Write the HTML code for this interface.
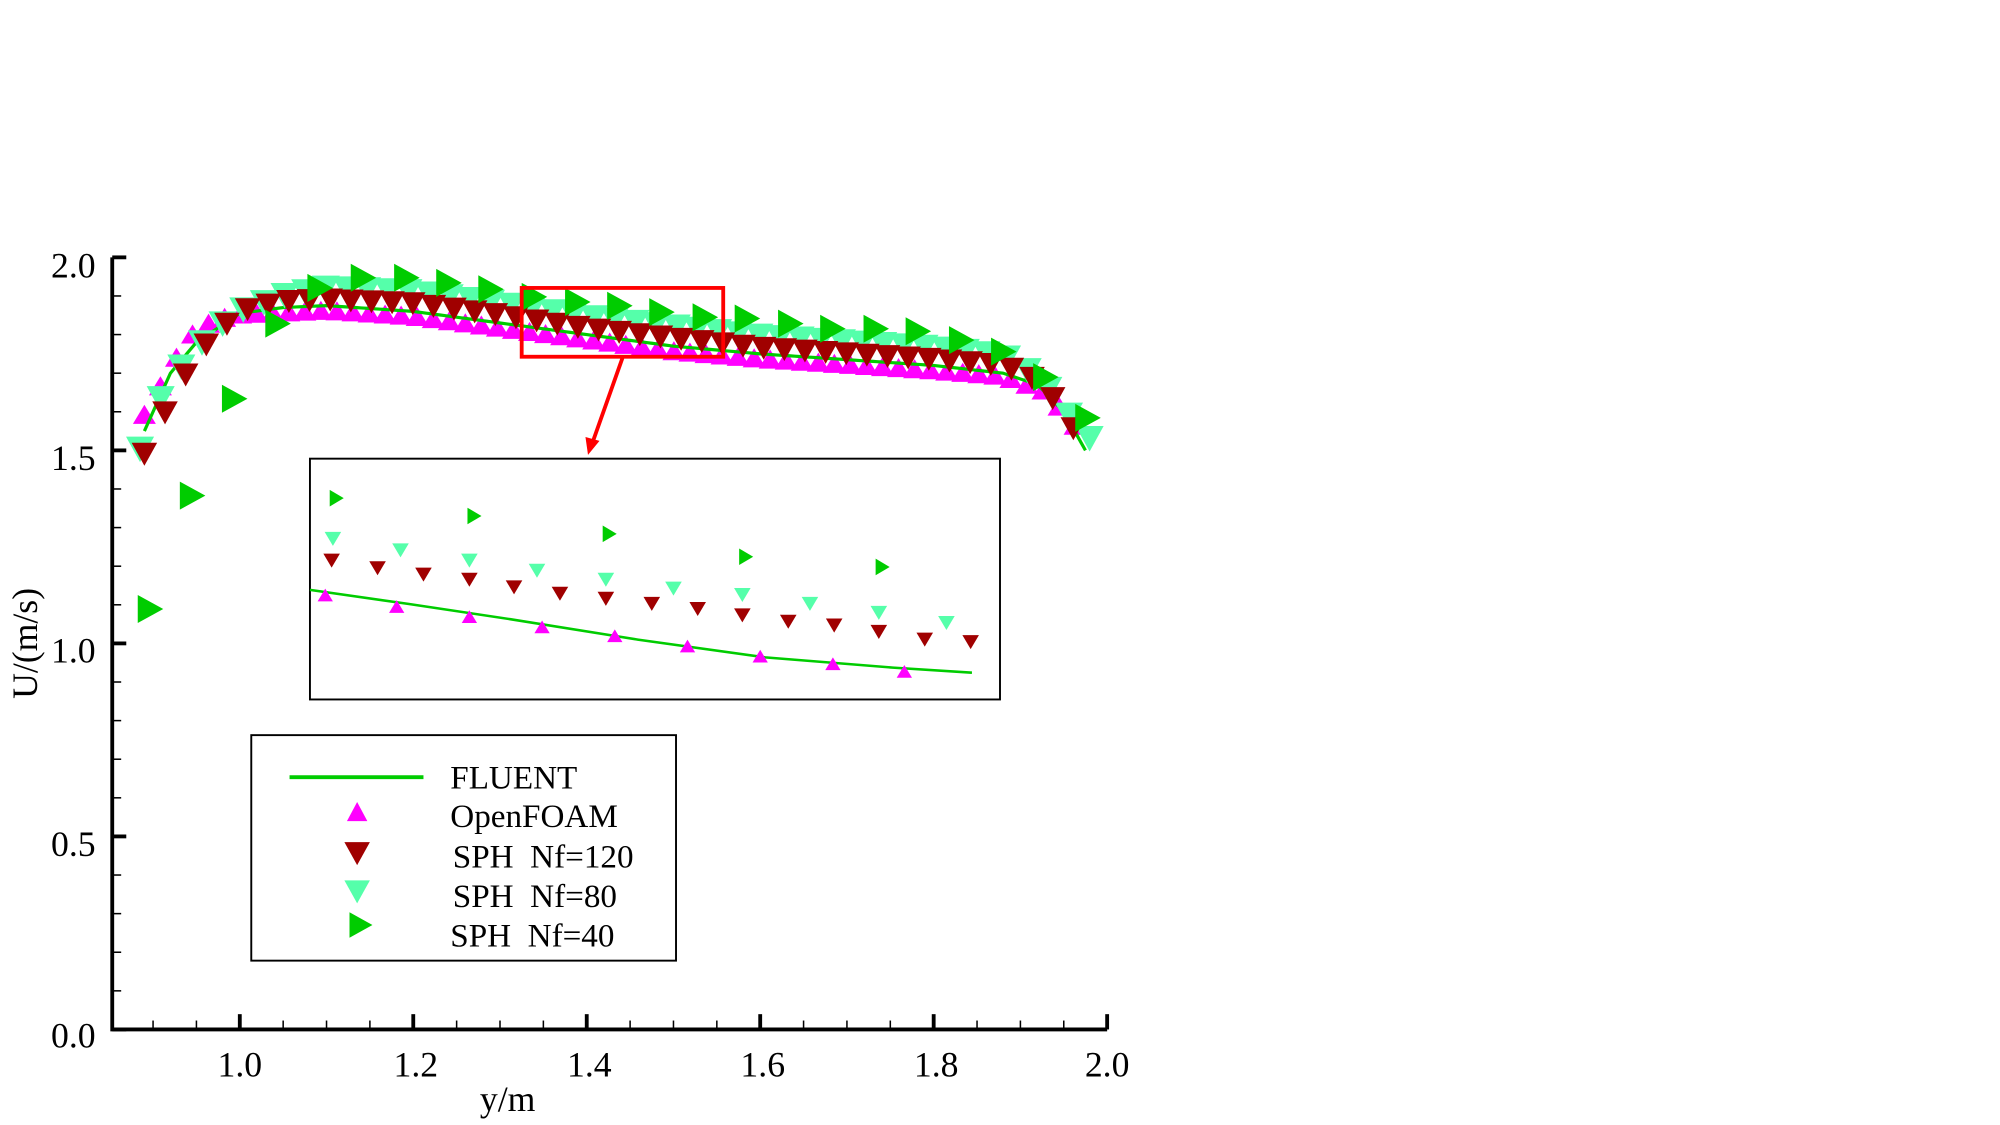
<!DOCTYPE html>
<html><head><meta charset="utf-8"><style>html,body{margin:0;padding:0;background:#fff;overflow:hidden}svg{display:block}text{font-family:"Liberation Serif",serif;fill:#000}</style></head>
<body>
<svg id="s" width="2000" height="1125" viewBox="0 0 1568 883" preserveAspectRatio="none" xmlns="http://www.w3.org/2000/svg">
<rect width="1568" height="883" fill="#fff"/>
<g id="data"></g>
<g id="axes" stroke="#000" fill="none"></g>
<g font-size="28">
<text x="75" y="218" text-anchor="end">2.0</text>
<text x="75" y="369" text-anchor="end">1.5</text>
<text x="75" y="520" text-anchor="end">1.0</text>
<text x="75" y="672" text-anchor="end">0.5</text>
<text x="75" y="822" text-anchor="end">0.0</text>
<text x="188" y="845" text-anchor="middle">1.0</text>
<text x="326" y="845" text-anchor="middle">1.2</text>
<text x="462" y="845" text-anchor="middle">1.4</text>
<text x="598" y="845" text-anchor="middle">1.6</text>
<text x="734" y="845" text-anchor="middle">1.8</text>
<text x="868" y="845" text-anchor="middle">2.0</text>
<text x="398" y="872" text-anchor="middle">y/m</text>
<text transform="translate(29,505) rotate(-90)" text-anchor="middle">U/(m/s)</text>
</g>
<rect x="409" y="226" width="158" height="54" fill="none" stroke="#ff0000" stroke-width="3"/>
<line x1="488" y1="281" x2="465" y2="346" stroke="#ff0000" stroke-width="3"/>
<polygon points="461,357 459,343 470,346" fill="#ff0000"/>
<rect x="243" y="360" width="541" height="189" fill="#fff" stroke="#000" stroke-width="1.5"/>
<g id="inset"></g>
<rect x="197" y="577" width="333" height="177" fill="#fff" stroke="#000" stroke-width="1.5"/>
<line x1="227" y1="610" x2="332" y2="610" stroke="#00cc00" stroke-width="3"/>
<g font-size="26">
<text x="353" y="619">FLUENT</text>
<text x="353" y="649">OpenFOAM</text>
<text x="355" y="681">SPH&#160;&#160;Nf=120</text>
<text x="355" y="712">SPH&#160;&#160;Nf=80</text>
<text x="353" y="743">SPH&#160;&#160;Nf=40</text>
</g>
<g id="leg"></g>
</svg>
<script>
var NS="http://www.w3.org/2000/svg";
function el(p,t,a){var e=document.createElementNS(NS,t);for(var k in a)e.setAttribute(k,a[k]);p.appendChild(e);return e;}
function up(g,x,y,w,h,c){el(g,"polygon",{points:(x-w/2)+","+(y+h/2)+" "+(x+w/2)+","+(y+h/2)+" "+x+","+(y-h/2),fill:c});}
function dn(g,x,y,w,h,c){el(g,"polygon",{points:(x-w/2)+","+(y-h/2)+" "+(x+w/2)+","+(y-h/2)+" "+x+","+(y+h/2),fill:c});}
function rt(g,x,y,w,h,c){el(g,"polygon",{points:(x-w/2)+","+(y-h/2)+" "+(x-w/2)+","+(y+h/2)+" "+(x+w/2)+","+y,fill:c});}
var ax=document.getElementById("axes");
el(ax,"polyline",{points:"88,202 88,808 868,808",stroke:"#000","stroke-width":"3"});
for(var i=0;i<=20;i++){var y=808-i*30.3;var L=(i%5==0)?11:7;el(ax,"line",{x1:88,y1:y,x2:88+L,y2:y,"stroke-width":i%5==0?3:1.2});}
for(var i=-4;i<=20;i++){var x=188+i*34;if(x<88)continue;var L=(i%4==0)?12:7;el(ax,"line",{x1:x,y1:808,x2:x,y2:808-L,"stroke-width":i%4==0?3:1.2});}
function X(v){return 188+(v-1)*680;}function Y(v){return 808-v*303;}
function interp(t,x){for(var i=0;i<t.length-1;i++){if(x<=t[i+1][0]){var a=t[i],b=t[i+1];return a[1]+(b[1]-a[1])*(x-a[0])/(b[0]-a[0]);}}return t[t.length-1][1];}
var fl=[[0.89,1.55],[0.92,1.70],[0.95,1.78],[1.0,1.855],[1.05,1.87],[1.1,1.875],[1.2,1.86],[1.3,1.83],[1.4,1.80],[1.5,1.77],[1.6,1.75],[1.7,1.735],[1.8,1.72],[1.88,1.70],[1.92,1.67],[1.95,1.60],[1.975,1.50]];
var r120=[[0.89,1.49],[0.91,1.58],[0.93,1.67],[0.96,1.77],[1.0,1.86],[1.05,1.885],[1.1,1.89],[1.2,1.88],[1.3,1.85],[1.4,1.815],[1.5,1.79],[1.6,1.765],[1.7,1.75],[1.8,1.735],[1.88,1.72],[1.92,1.68],[1.95,1.60],[1.975,1.50]];
var r80=[[0.89,1.53],[0.91,1.64],[0.94,1.74],[0.97,1.81],[1.0,1.86],[1.05,1.90],[1.1,1.92],[1.2,1.91],[1.3,1.88],[1.4,1.845],[1.5,1.82],[1.6,1.795],[1.7,1.78],[1.8,1.765],[1.88,1.745],[1.92,1.69],[1.95,1.61],[1.975,1.53]];
var of=[[0.89,1.60],[0.94,1.80],[0.97,1.845],[1.0,1.86],[1.1,1.87],[1.2,1.855],[1.3,1.825],[1.4,1.795],[1.5,1.765],[1.6,1.745],[1.7,1.73],[1.8,1.715],[1.88,1.70],[1.93,1.66],[1.975,1.54]];
var d=document.getElementById("data");
for(var i=0;i<=80;i++){var v=0.89+i*0.0185;if(v>1.975)break;up(d,X(v),Y(interp(of,v))+2,18,15,"#ff00ff");}
var pts="";for(var v=0.89;v<=1.976;v+=0.005)pts+=X(v)+","+Y(interp(fl,v))+" ";
el(d,"polyline",{points:pts,fill:"none",stroke:"#00cc00","stroke-width":"2.5"});
for(var i=0;i<=80;i++){var v=0.885+i*0.0238;if(v>1.98)break;dn(d,X(v),Y(interp(r80,v)),22,20,"#55ffaa");}
for(var i=0;i<=80;i++){var v=0.89+i*0.0238;if(v>1.98)break;dn(d,X(v),Y(interp(r120,v)),20,18,"#a00000");}
var g40=[[118,478],[151,389],[184,313],[218,254],[251,226],[285,218],[319,218],[352,222],[385,227],[419,233],[453,237],[486,240],[519,245],[553,249],[586,250],[620,254],[653,258],[687,258],[720,260],[754,267],[787,276],[820,296],[853,328]];
g40.forEach(function(p){rt(d,p[0],p[1],20,22,"#00cc00");});
var ins=document.getElementById("inset");
el(ins,"polyline",{points:"243,463 320,474 400,486 500,502 600,516 700,524 762,528",fill:"none",stroke:"#00cc00","stroke-width":"2"});
[[255,467],[311,476],[368,484],[425,492],[482,499],[539,507],[596,515],[653,521],[709,527]].forEach(function(p){up(ins,p[0],p[1],12,10,"#ff00ff");});
[[260,440],[296,446],[332,451],[368,455],[403,461],[439,466],[475,470],[511,474],[547,478],[582,483],[618,488],[654,491],[689,496],[725,502],[761,504]].forEach(function(p){dn(ins,p[0],p[1],13,11,"#a00000");});
[[261,423],[314,432],[368,440],[421,448],[475,455],[528,462],[582,467],[635,474],[689,481],[742,489]].forEach(function(p){dn(ins,p[0],p[1],13,11,"#55ffaa");});
[[264,391],[372,405],[478,419],[585,437],[692,445]].forEach(function(p){rt(ins,p[0],p[1],11,13,"#00cc00");});
var lg=document.getElementById("leg");
up(lg,280,637,16,15,"#ff00ff");dn(lg,280,670,20,18,"#a00000");dn(lg,280,700,20,18,"#55ffaa");rt(lg,283,726,18,20,"#00cc00");
</script>
</body></html>
